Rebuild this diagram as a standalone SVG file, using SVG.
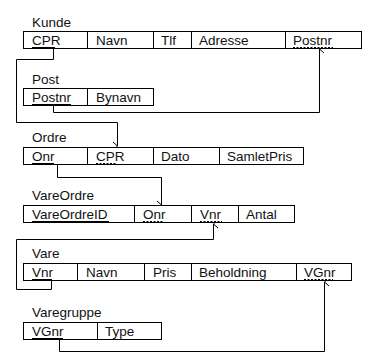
<svg xmlns="http://www.w3.org/2000/svg" width="369" height="356" viewBox="0 0 369 356">
<defs>
<style>
text{font-family:"Liberation Sans",Arial,sans-serif;font-size:13.5px;fill:#111}
.box{fill:#fff;stroke:#000;stroke-width:1}
.div{stroke:#000;stroke-width:1}
.pk{stroke:#000;stroke-width:1}
.fk{stroke:#000;stroke-width:1;stroke-dasharray:2 1.5}
.con{fill:none;stroke:#000;stroke-width:1}
</style>
<marker id="arr" viewBox="0 0 10 10" refX="5" refY="0.5" markerWidth="10" markerHeight="10" markerUnits="userSpaceOnUse" orient="auto-start-reverse">
<path d="M1,5 L5,0.5 L9,5" fill="none" stroke="#000" stroke-width="1"/>
</marker>
</defs>
<rect width="369" height="356" fill="#fff"/>
<g id="connectors">
<path class="con" d="M53.5,48 V59.5 H16.5 V122.5 H117.5 V146" marker-end="url(#arr)"/>
<path class="con" d="M53.5,106 V112.5 H319.5 V49" marker-end="url(#arr)"/>
<path class="con" d="M57.5,165 V177.5 H161.5 V205" marker-end="url(#arr)"/>
<path class="con" d="M51.5,281 V289.5 H16.5 V239.5 H213.5 V224" marker-end="url(#arr)"/>
<path class="con" d="M59.5,340 V351.5 H324.5 V282" marker-end="url(#arr)"/>
</g>
<g id="kunde">
<text x="32" y="27">Kunde</text>
<rect class="box" x="23.5" y="31.5" width="338" height="17"/>
<path class="div" d="M87.5,31.5V48.5M153.5,31.5V48.5M191.5,31.5V48.5M285.5,31.5V48.5"/>
<text x="32" y="44.5">CPR</text>
<text x="96" y="44.5">Navn</text>
<text x="161" y="44.5">Tlf</text>
<text x="199" y="44.5">Adresse</text>
<text x="293" y="44.5">Postnr</text>
<path class="pk" d="M32,47.5H55"/>
<path class="fk" d="M293,47.5H333"/>
</g>
<g id="post">
<text x="32" y="84">Post</text>
<rect class="box" x="23.5" y="88.5" width="130" height="17"/>
<path class="div" d="M87.5,88.5V105.5"/>
<text x="32" y="101.5">Postnr</text>
<text x="96" y="101.5">Bynavn</text>
<path class="pk" d="M32,104.5H71"/>
</g>
<g id="ordre">
<text x="32" y="142">Ordre</text>
<rect class="box" x="23.5" y="147.5" width="280" height="17"/>
<path class="div" d="M87.5,147.5V164.5M153.5,147.5V164.5M219.5,147.5V164.5"/>
<text x="32" y="160.5">Onr</text>
<text x="96" y="160.5">CPR</text>
<text x="161" y="160.5">Dato</text>
<text x="227" y="160.5">SamletPris</text>
<path class="pk" d="M32,163.5H54"/>
<path class="fk" d="M96,163.5H117"/>
</g>
<g id="vareordre">
<text x="32" y="200">VareOrdre</text>
<rect class="box" x="23.5" y="205.5" width="271" height="17"/>
<path class="div" d="M134.5,205.5V222.5M191.5,205.5V222.5M238.5,205.5V222.5"/>
<text x="32" y="218.5">VareOrdreID</text>
<text x="143" y="218.5">Onr</text>
<text x="200" y="218.5">Vnr</text>
<text x="246" y="218.5">Antal</text>
<path class="pk" d="M32,221.5H109"/>
<path class="fk" d="M143,221.5H164"/>
<path class="fk" d="M200,221.5H222"/>
</g>
<g id="vare">
<text x="32" y="258">Vare</text>
<rect class="box" x="23.5" y="263.5" width="328" height="17"/>
<path class="div" d="M77.5,263.5V280.5M144.5,263.5V280.5M191.5,263.5V280.5M296.5,263.5V280.5"/>
<text x="32" y="276.5">Vnr</text>
<text x="86" y="276.5">Navn</text>
<text x="153" y="276.5">Pris</text>
<text x="199" y="276.5">Beholdning</text>
<text x="304" y="276.5">VGnr</text>
<path class="pk" d="M32,279.5H52"/>
<path class="fk" d="M304,279.5H333"/>
</g>
<g id="varegruppe">
<text x="32" y="317">Varegruppe</text>
<rect class="box" x="23.5" y="322.5" width="138" height="17"/>
<path class="div" d="M97.5,322.5V339.5"/>
<text x="32" y="335.5">VGnr</text>
<text x="105" y="335.5">Type</text>
<path class="pk" d="M32,338.5H63"/>
</g>
</svg>
